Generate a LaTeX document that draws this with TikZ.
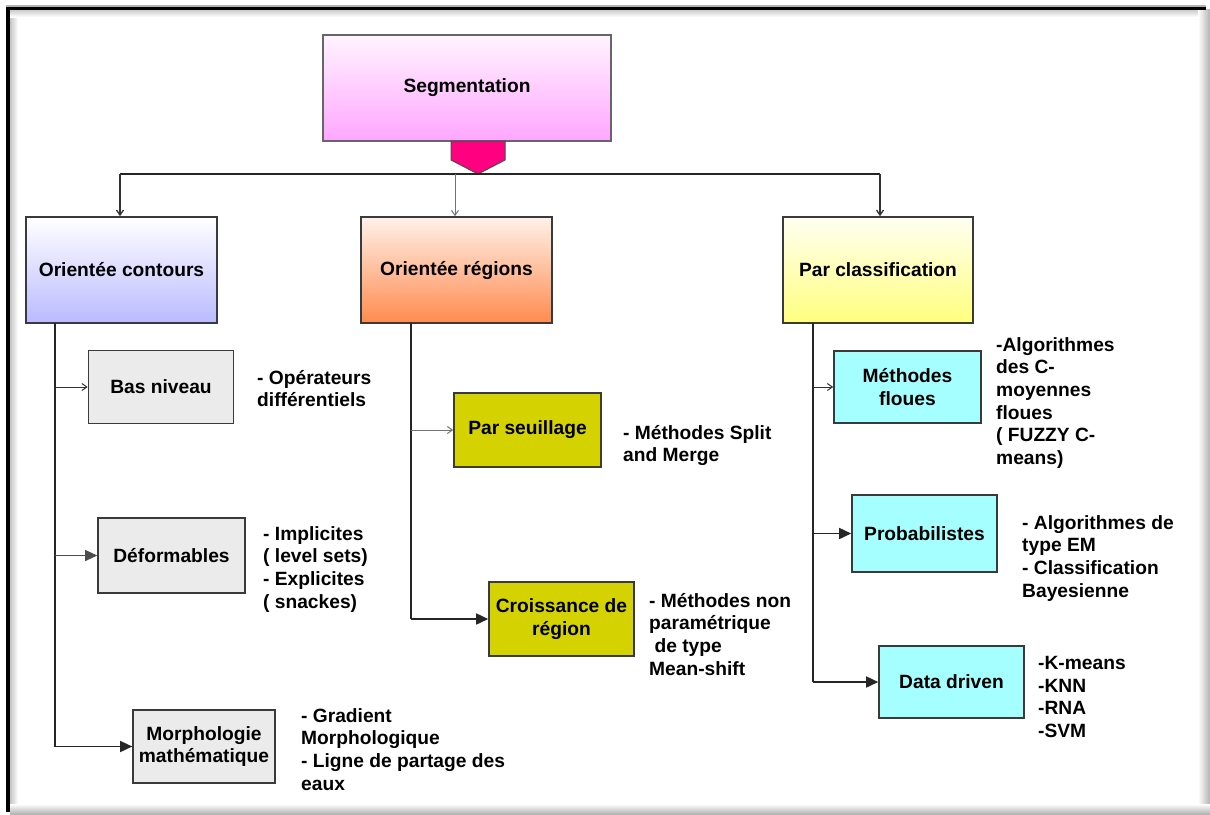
\documentclass[tikz,border=0pt]{standalone}
\usepackage{fontspec}
\setmainfont{Liberation Sans}
\usetikzlibrary{arrows.meta,calc}

\definecolor{boxline}{HTML}{3A3A3A}
\definecolor{hubpink}{HTML}{FF0080}
\definecolor{segtop}{HTML}{FFF4FF}
\definecolor{segbot}{HTML}{FFA6FF}
\definecolor{octop}{HTML}{FFFFFF}
\definecolor{ocbot}{HTML}{BABAFF}
\definecolor{ortop}{HTML}{FFF2EA}
\definecolor{orbot}{HTML}{FF8A4E}
\definecolor{pctop}{HTML}{FFFFF2}
\definecolor{pcbot}{HTML}{FFFF7E}
\definecolor{leafgray}{HTML}{EBEBEB}
\definecolor{leafolive}{HTML}{D4D200}
\definecolor{leafcyan}{HTML}{A6FFFF}

\tikzset{
  txt/.style={font=\fontsize{19.2}{22.7}\selectfont\bfseries},
  box/.style={draw=boxline, line width=1.6pt, inner sep=0pt, align=center, txt},
  topbox/.style={box, shading=axis, shading angle=0},
  leaf/.style={box},
  desc/.style={txt, anchor=north west, inner sep=0pt, align=left},
  thin/.style={draw=black!80, line width=1pt, -{Straight Barb[length=5pt,width=7pt]}},
  bold/.style={draw=black!85, line width=1.6pt, -{Triangle[length=12pt,width=11pt]}},
  spine/.style={draw=black!85, line width=1.6pt},
}

\begin{document}
\begin{tikzpicture}[x=1pt,y=-1pt]
\useasboundingbox (0,0) rectangle (1210,814);

% page frame with soft shadow
\fill[white] (0,0) rectangle (1210,814);
\shade[left color=gray!45, right color=white] (10,9) rectangle (18,812);
\shade[top color=gray!45, bottom color=white] (10,9) rectangle (1204,17);
\shade[left color=white, right color=gray!60] (1198,9) rectangle (1210,812);
\shade[top color=white, bottom color=gray!60] (10,804) rectangle (1210,814);
\fill[gray!60] (6,4.5) rectangle (1206,6.5);
\fill[black] (6,6.5) rectangle (1206,9.5);
\fill[black] (6,6.5) rectangle (10,812);

% root
\node[topbox, top color=segtop, bottom color=segbot, draw=gray!80!black,
      minimum width=288, minimum height=106] (seg) at (467,88) {Segmentation};

% hub below the root
\coordinate (hub) at (478,174);
\filldraw[fill=hubpink, draw=black!70, line width=1pt]
  (451,141) -- (505,141) -- (505,160) -- (hub) -- (451,160) -- cycle;

% first level
\node[topbox, top color=octop, bottom color=ocbot,
      minimum width=191, minimum height=106] (oc) at (121.5,270) {Orientée contours};
\node[topbox, top color=ortop, bottom color=orbot,
      minimum width=191, minimum height=106] (or) at (456.5,270) {Orientée régions};
\node[topbox, top color=pctop, bottom color=pcbot,
      minimum width=190, minimum height=106] (pc) at (878,270) {Par classification};

\draw[spine, line width=1.3pt] ($(oc.north |- hub)+(-1.5,0)$) -- ($(pc.north |- hub)+(2,0)$);
\draw[thin, line width=1.3pt] ($(oc.north |- hub)+(-1.5,0)$) -- ($(oc.north)+(-1.5,0)$);
\draw[thin, draw=black!55] ($(or.north |- hub)+(-1.5,0)$) -- ($(or.north)+(-1.5,0)$);
\draw[thin, line width=1.3pt] ($(pc.north |- hub)+(2,0)$) -- ($(pc.north)+(2,0)$);

% contour-based methods
\node[leaf, fill=leafgray, minimum width=145, minimum height=73] (bas) at (161,387) {Bas niveau};
\node[leaf, fill=leafgray, minimum width=147, minimum height=75] (def) at (171.5,555.5) {Déformables};
\node[leaf, fill=leafgray, minimum width=142, minimum height=73] (morph) at (204,746.5) {Morphologie\\mathématique};
\coordinate (ocs) at (55,323);
\draw[spine] (ocs) -- (ocs |- morph) -- (morph.west);
\draw[bold] (ocs |- morph) -- (morph.west);
\draw[thin] (ocs |- bas) -- (bas.west);
\draw[bold, draw=black!70, line width=1pt] (ocs |- def) -- (def.west);

\node[desc] (dbas) at (257,370) {- Opérateurs\\différentiels};
\node[desc] (ddef) at (263,526) {- Implicites\\( level sets)\\- Explicites\\( snackes)};
\node[desc] (dmorph) at (301,708) {- Gradient\\Morphologique\\- Ligne de partage des\\eaux};

% region-based methods
\node[leaf, fill=leafolive, minimum width=147, minimum height=74] (seuil) at (527.5,430) {Par seuillage};
\node[leaf, fill=leafolive, minimum width=145, minimum height=74] (crois) at (561.5,619) {Croissance de\\région};
\coordinate (ors) at (411,323);
\draw[spine] (ors) -- (ors |- crois);
\draw[bold] (ors |- crois) -- (crois.west);
\draw[thin, draw=black!55] (ors |- seuil) -- (seuil.west);

\node[desc] (dseuil) at (623,425) {- Méthodes Split\\and Merge};
\node[desc] (dcrois) at (649,593) {- Méthodes non\\paramétrique\\\ de type\\Mean-shift};

% classification-based methods
\node[leaf, fill=leafcyan, minimum width=147, minimum height=72] (floues) at (907.5,387) {Méthodes\\floues};
\node[leaf, fill=leafcyan, minimum width=145, minimum height=77] (proba) at (924.5,533.5) {Probabilistes};
\node[leaf, fill=leafcyan, minimum width=145, minimum height=72] (data) at (951.5,682) {Data driven};
\coordinate (pcs) at (813,323);
\draw[spine] (pcs) -- (pcs |- data);
\draw[bold] (pcs |- data) -- (data.west);
\draw[bold] (pcs |- proba) -- (proba.west);
\draw[thin] (pcs |- floues) -- (floues.west);

\node[desc] (dfloues) at (996,337) {-Algorithmes\\des C-\\moyennes\\floues\\( FUZZY C-\\means)};
\node[desc] (dproba) at (1022,515) {- Algorithmes de\\type EM\\- Classification\\Bayesienne};
\node[desc] (ddata) at (1038,656) {-K-means\\-KNN\\-RNA\\-SVM};
\end{tikzpicture}
\end{document}
